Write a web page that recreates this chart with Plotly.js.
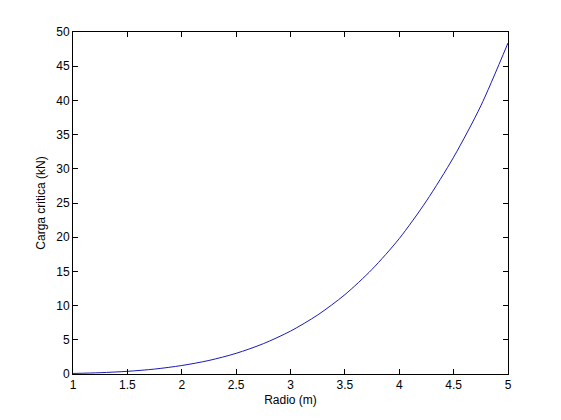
<!DOCTYPE html>
<html><head><meta charset="utf-8">
<script src="https://cdn.plot.ly/plotly-3.0.1.min.js"></script>
<style>html,body{margin:0;padding:0;background:#fff}#plot{width:561px;height:420px}</style>
</head><body><div id="plot"></div>
<script>
const radio = [1, 1.25, 1.5, 1.75, 2, 2.25, 2.5, 2.75, 3, 3.25, 3.5, 3.75, 4, 4.25, 4.5, 4.75, 5];
const carga = [0.08, 0.19, 0.39, 0.72, 1.24, 1.98, 3.02, 4.43, 6.27, 8.63, 11.6, 15.3, 19.8, 25.3, 31.7, 39.2, 48.4];
const xTicks = [1, 1.5, 2, 2.5, 3, 3.5, 4, 4.5, 5];
const yTicks = [0, 5, 10, 15, 20, 25, 30, 35, 40, 45, 50];

const axisCommon = {
  showgrid: false, zeroline: false, showline: true, mirror: 'ticks',
  linecolor: '#000', linewidth: 1, ticks: 'inside', ticklen: 5, tickcolor: '#000',
  tickfont: {family: 'Liberation Sans, Arial, sans-serif', size: 12, color: '#000'}
};
Plotly.newPlot('plot', [{
  x: radio, y: carga, type: 'scatter', mode: 'lines',
  line: {color: '#1a1ab4', width: 1, shape: 'spline', smoothing: 0.8}, hoverinfo: 'none'
}], {
  width: 561, height: 420,
  margin: {l: 73, r: 53, t: 32, b: 46},
  paper_bgcolor: '#fff', plot_bgcolor: '#fff', showlegend: false,
  xaxis: Object.assign({}, axisCommon, {
    range: [1, 5], tickvals: xTicks, ticktext: xTicks.map(String),
    title: {text: 'Radio (m)', standoff: 4, font: {family: 'Liberation Sans, Arial, sans-serif', size: 12, color: '#000'}}
  }),
  yaxis: Object.assign({}, axisCommon, {
    range: [0, 50], tickvals: yTicks, ticktext: yTicks.map(String),
    title: {text: 'Carga critica (kN)', standoff: 8, font: {family: 'Liberation Sans, Arial, sans-serif', size: 12, color: '#000'}}
  })
}, {staticPlot: true});
</script></body></html>
